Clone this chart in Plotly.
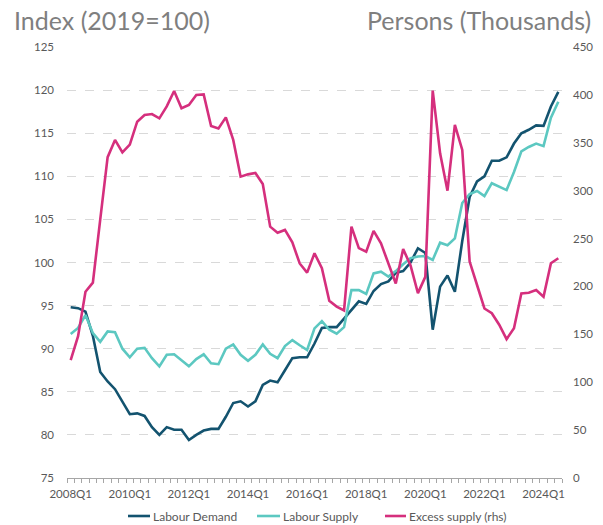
import plotly.graph_objects as go

quarters = [f"{y}Q{q}" for y in range(2008, 2025) for q in range(1, 5)][:67]

labour_demand = [94.8, 94.7, 94.3, 91.5, 87.3, 86.2, 85.3, 83.9, 82.4, 82.5,
                 82.2, 80.9, 80.0, 80.9, 80.6, 80.6, 79.4, 80.0, 80.5, 80.7,
                 80.7, 82.1, 83.7, 83.9, 83.3, 83.9, 85.8, 86.3, 86.1, 87.5,
                 88.9, 89.0, 89.0, 90.6, 92.4, 92.5, 92.5, 93.5, 94.5, 95.5,
                 95.2, 96.7, 97.5, 97.8, 98.8, 99.0, 100.0, 101.65, 101.1, 92.2,
                 97.2, 98.5, 96.6, 102.5, 107.6, 109.4, 110.0, 111.8, 111.8, 112.2,
                 113.8, 115.0, 115.4, 115.9, 115.85, 118.1, 119.8]

labour_supply = [91.7, 92.4, 93.9, 91.8, 90.8, 92.0, 91.9, 90.0, 89.0, 90.0,
                 90.1, 88.9, 87.95, 89.3, 89.35, 88.7, 87.95, 88.8, 89.35, 88.3,
                 88.2, 90.0, 90.5, 89.3, 88.6, 89.3, 90.5, 89.4, 88.9, 90.3,
                 91.0, 90.4, 89.85, 92.36, 93.2, 92.2, 91.75, 92.5, 96.8, 96.8,
                 96.35, 98.74, 98.94, 98.36, 99.0, 99.8, 100.5, 100.7, 100.75, 100.3,
                 102.3, 102.0, 102.8, 106.9, 107.95, 108.3, 107.7, 109.2, 108.8, 108.4,
                 110.5, 112.9, 113.4, 113.8, 113.5, 116.8, 118.65]

excess_supply = [123, 148, 194.5, 204, 270, 335, 353, 340, 348, 372,
                 379, 380, 375.5, 388, 404, 386, 389.5, 400, 400.5, 367.5,
                 365, 376.5, 353, 314.6, 317, 318.5, 307, 262.4, 256, 259,
                 246, 224, 214.4, 234.6, 219, 185, 179, 175, 262.4, 240,
                 236.3, 258, 245, 224, 203, 239, 222, 193, 210, 404.4,
                 339, 300, 368.6, 342.5, 226, 201.5, 177, 172, 160, 145,
                 156.3, 192.8, 193.5, 196.3, 189.3, 224.2, 229.4]

tick_labels = ["2008Q1", "2010Q1", "2012Q1", "2014Q1", "2016Q1",
               "2018Q1", "2020Q1", "2022Q1", "2024Q1"]

series_names = ["Labour Demand", "Labour Supply", "Excess supply (rhs)"]

idx = list(range(len(quarters)))
tick_idx = [quarters.index(t) for t in tick_labels]

C_DEM = "#13536f"
C_SUP = "#5cc8c1"
C_EXC = "#d52f7d"
colors = [C_DEM, C_SUP, C_EXC]
GREY = "#595959"
FONT = "Lato"

# plot area in pixels
L, R, T, B = 67, 562, 47, 478
W, H = R - L, B - T


def px_x(p):
    return (p - L) / W


def px_y(p):
    return (B - p) / H


fig = go.Figure()
for name, vals, col, ax in zip(series_names,
                               [labour_demand, labour_supply, excess_supply],
                               colors, ["y", "y", "y2"]):
    fig.add_trace(go.Scatter(x=idx, y=vals, mode="lines", name=name,
                             line=dict(color=col, width=2.6), yaxis=ax,
                             customdata=quarters,
                             hovertemplate="%{customdata}: %{y}<extra>" + name + "</extra>"))

# manual legend (line sample + label)
legend_pos = [(128, 150), (257, 280), (385, 406)]
shapes = []
annotations = []
for (x0, x1), name, col in zip(legend_pos, series_names, colors):
    shapes.append(dict(type="line", xref="paper", yref="paper",
                       x0=px_x(x0), x1=px_x(x1), y0=px_y(516), y1=px_y(516),
                       line=dict(color=col, width=2.6)))
    annotations.append(dict(text=name, xref="paper", yref="paper",
                            x=px_x(x1 + 1), y=px_y(516), xanchor="left", yanchor="middle",
                            showarrow=False, font=dict(size=12, color=GREY, family=FONT)))

annotations += [
    dict(text="Index (2019=100)", xref="paper", yref="paper",
         x=px_x(12), y=px_y(20), xanchor="left", yanchor="middle",
         showarrow=False, font=dict(size=25, color="#7f7f7f", family=FONT)),
    dict(text="Persons (Thousands)", xref="paper", yref="paper",
         x=px_x(593), y=px_y(20), xanchor="right", yanchor="middle",
         showarrow=False, font=dict(size=25, color="#7f7f7f", family=FONT)),
]

fig.update_layout(
    width=603, height=525,
    margin=dict(l=L, r=603 - R, t=T, b=525 - B, autoexpand=False),
    paper_bgcolor="white", plot_bgcolor="white",
    font=dict(family=FONT, color=GREY, size=11.5),
    showlegend=False,
    xaxis=dict(range=[-0.5, len(quarters) - 0.5], tickmode="array",
               tickvals=tick_idx, ticktext=tick_labels, ticks="",
               showgrid=False, zeroline=False, showline=True,
               linecolor="#a6a6a6", linewidth=1,
               tickfont=dict(size=11.5, color=GREY), ticklabelstandoff=5,
               minor=dict(ticks="outside", tickmode="linear", tick0=-0.5, dtick=1,
                          ticklen=4, tickcolor="#a6a6a6", tickwidth=1, showgrid=False)),
    yaxis=dict(range=[75, 125], tickmode="linear", tick0=75, dtick=5,
               showgrid=True, gridcolor="#d9d9d9", griddash="dash", gridwidth=1,
               zeroline=False, showline=False, ticks="",
               tickfont=dict(size=11.5, color=GREY), ticklabelstandoff=12),
    yaxis2=dict(range=[0, 450], tickmode="linear", tick0=0, dtick=50,
                overlaying="y", side="right", showgrid=False, zeroline=False,
                showline=False, ticks="", tickfont=dict(size=11.5, color=GREY),
                ticklabelstandoff=10),
    shapes=shapes,
    annotations=annotations,
)

fig.write_html("out.html", config={"displayModeBar": False},
               post_script="document.body.style.margin='0';document.body.style.padding='0';")
